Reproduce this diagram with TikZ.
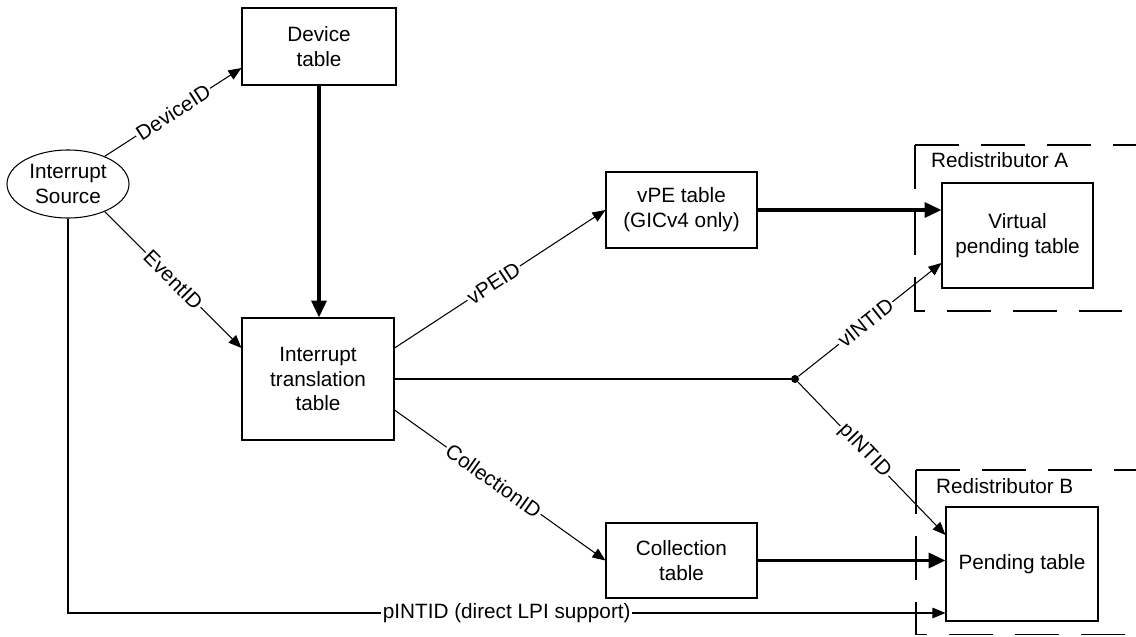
\documentclass[tikz,border=0pt]{standalone}
\usepackage{fontspec}
\setmainfont{Liberation Sans}
\usetikzlibrary{arrows.meta,shapes.geometric}

\begin{document}
\begin{tikzpicture}[
    font=\fontsize{11.8}{14.2}\selectfont,
    tbl/.style={draw, line width=.6pt, align=center, inner sep=0pt},
    thinarr/.style={line width=.6pt, -{Triangle[length=7.4pt,width=6pt]}},
    thickarr/.style={line width=2pt, -{Triangle[length=9.6pt,width=8.5pt]}},
    lbl/.style={sloped, fill=white, inner sep=1pt},
    redist/.style={line width=.6pt, dash pattern=on 25pt off 12.5pt}
  ]
  \useasboundingbox (0,0) rectangle (22.72,12.72);

      %%source
      \node[tbl, ellipse, minimum width=2.44cm, minimum height=1.36cm] (src) at (1.36, 9.04) {Interrupt\\Source};
      %%tables
      \node[tbl, minimum width=3.08cm, minimum height=1.54cm] (dev) at (6.38, 11.79) {Device\\table};
      \node[tbl, minimum width=3.04cm, minimum height=2.44cm] (itt) at (6.36, 5.14) {Interrupt\\translation\\table};
      \node[tbl, minimum width=3.02cm, minimum height=1.52cm] (vpe) at (13.63, 8.52) {vPE table\\(GICv4 only)};
      \node[tbl, minimum width=3.02cm, minimum height=1.50cm] (col) at (13.63, 1.51) {Collection\\table};
      %%redistributor A
      \draw[redist](18.30, 9.82) -- (22.72, 9.82);
      \draw[redist](18.30, 9.82) -- (18.30, 6.50) -- (22.72, 6.50);
      \node[anchor=base west] (ra) at (18.50, 9.38) {Redistributor A};
      \node[tbl, minimum width=3.02cm, minimum height=2.10cm] (vpt) at (20.35, 8.01) {Virtual\\pending table};
      %%redistributor B
      \draw[redist](18.32, 3.32) -- (22.72, 3.32);
      \draw[redist](18.32, 3.32) -- (18.32, 0.03) -- (22.72, 0.03);
      \node[anchor=base west] (rb) at (18.60, 2.86) {Redistributor B};
      \node[tbl, minimum width=3.04cm, minimum height=2.28cm] (pend) at (20.44, 1.44) {Pending table};

      \node[circle, fill, inner sep=0pt, minimum size=.16cm] (j) at (15.90, 5.14) {};
      \coordinate (lpi) at ([yshift=-.98cm]pend.west);

      %%ids
      \draw[thinarr](src.37) to node[lbl]{DeviceID} ([yshift=-.43cm]dev.west);
      \draw[thinarr](src.-37) to node[lbl]{EventID} ([yshift=.62cm]itt.west);
      \draw[thickarr](dev.south) to (dev.south |- itt.north);
      \draw[thinarr]([yshift=.62cm]itt.east) to node[lbl, pos=.47]{vPEID} (vpe.west);
      \draw[thinarr]([yshift=-.62cm]itt.east) to node[lbl, pos=.47]{CollectionID} (col.west);
      \draw[line width=.6pt](itt.east) to (j);
      \draw[thinarr](j) to node[lbl, pos=.47]{vINTID} ([yshift=-.55cm]vpt.west);
      \draw[thinarr](j) to node[lbl, pos=.45]{pINTID} ([yshift=.58cm]pend.west);
      %%thick
      \draw[thickarr](vpe.east) to (vpe.east -| vpt.west);
      \draw[thickarr](col.east) to (col.east -| pend.west);
      %%direct
      \draw[thinarr](src.south) |- node[fill=white, inner sep=1pt, pos=.75]{pINTID (direct LPI support)} (lpi);
\end{tikzpicture}
\end{document}
